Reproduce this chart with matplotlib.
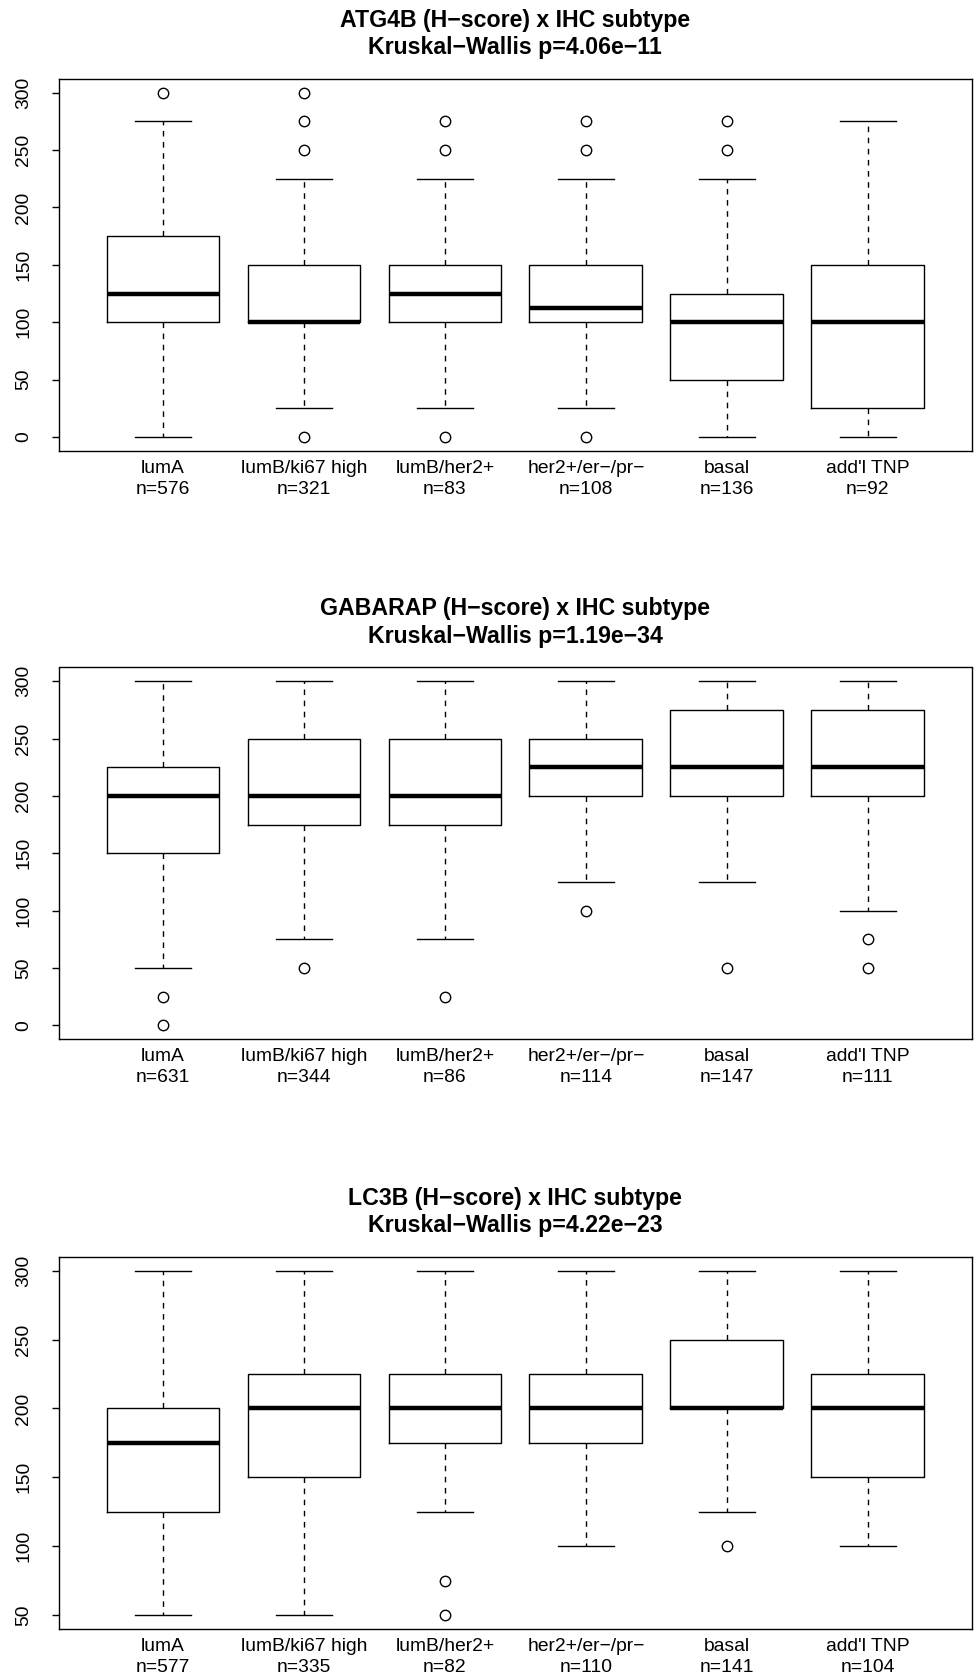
import matplotlib
matplotlib.use("Agg")
import matplotlib.pyplot as plt

plt.rcParams['font.family'] = ['Liberation Sans', 'DejaVu Sans']

subtypes = ["lumA", "lumB/ki67 high", "lumB/her2+", "her2+/er\u2212/pr\u2212", "basal", "add'l TNP"]

# ATG4B
atg4b_n = [576, 321, 83, 108, 136, 92]
atg4b_lo = [0, 25, 25, 25, 0, 0]
atg4b_q1 = [100, 100, 100, 100, 50, 25]
atg4b_med = [125, 100, 125, 112.5, 100, 100]
atg4b_q3 = [175, 150, 150, 150, 125, 150]
atg4b_hi = [275, 225, 225, 225, 225, 275]
atg4b_out = [[300], [0, 250, 275, 300], [0, 250, 275], [0, 250, 275], [250, 275], []]

# GABARAP
gab_n = [631, 344, 86, 114, 147, 111]
gab_lo = [50, 75, 75, 125, 125, 100]
gab_q1 = [150, 175, 175, 200, 200, 200]
gab_med = [200, 200, 200, 225, 225, 225]
gab_q3 = [225, 250, 250, 250, 275, 275]
gab_hi = [300, 300, 300, 300, 300, 300]
gab_out = [[0, 25], [50], [25], [100], [50], [50, 75]]

# LC3B
lc3b_n = [577, 335, 82, 110, 141, 104]
lc3b_lo = [50, 50, 125, 100, 125, 100]
lc3b_q1 = [125, 150, 175, 175, 200, 150]
lc3b_med = [175, 200, 200, 200, 200, 200]
lc3b_q3 = [200, 225, 225, 225, 250, 225]
lc3b_hi = [300, 300, 300, 300, 300, 300]
lc3b_out = [[], [], [50, 75], [], [100], []]

panels = [
    ("ATG4B", "4.06e\u221211", atg4b_n, atg4b_lo, atg4b_q1, atg4b_med, atg4b_q3, atg4b_hi, atg4b_out),
    ("GABARAP", "1.19e\u221234", gab_n, gab_lo, gab_q1, gab_med, gab_q3, gab_hi, gab_out),
    ("LC3B", "4.22e\u221223", lc3b_n, lc3b_lo, lc3b_q1, lc3b_med, lc3b_q3, lc3b_hi, lc3b_out),
]

W, H = 974, 1675
fig = plt.figure(figsize=(W / 100, H / 100), dpi=100)

axes_top_px = [79, 667.5, 1257]
axes_h_px = 371.7
left_px, right_px = 58.7, 972

base = 13.9
lw = 1.0

for (gene, pval, n, lo, q1, med, q3, hi, out), top in zip(panels, axes_top_px):
    ax = fig.add_axes([left_px / W, 1 - (top + axes_h_px) / H,
                       (right_px - left_px) / W, axes_h_px / H])
    stats = []
    for i in range(len(subtypes)):
        stats.append(dict(whislo=lo[i], q1=q1[i], med=med[i], q3=q3[i],
                          whishi=hi[i], fliers=out[i]))
    pos = list(range(1, len(subtypes) + 1))
    ax.bxp(stats, positions=pos, widths=0.8, capwidths=0.4, patch_artist=False,
           boxprops=dict(color='black', linewidth=lw),
           medianprops=dict(color='black', linewidth=3.2, solid_capstyle='butt'),
           whiskerprops=dict(color='black', linewidth=lw, linestyle=(0, (4, 4))),
           capprops=dict(color='black', linewidth=lw),
           flierprops=dict(marker='o', markerfacecolor='none', markeredgecolor='black',
                           markersize=7.5, markeredgewidth=lw))

    allv = lo + hi + [v for o in out for v in o]
    vmin, vmax = min(allv), max(allv)
    pad = 0.04 * (vmax - vmin)
    ax.set_ylim(vmin - pad, vmax + pad)
    ax.set_xlim(0.26, 6.74)

    ax.set_yticks(list(range(int(vmin), int(vmax) + 1, 50)))
    ax.tick_params(axis='y', length=7.5 * 0.72, width=lw, labelsize=base, pad=13.5,
                   labelrotation=90)
    for t in ax.get_yticklabels():
        t.set_va('center')
    ax.set_xticks(pos)
    ax.set_xticklabels([f"{s}\nn={k}" for s, k in zip(subtypes, n)],
                       fontsize=base, linespacing=1.3)
    ax.tick_params(axis='x', length=0, pad=6.5)
    for s in ax.spines.values():
        s.set_linewidth(lw)

    ax.set_title(f"{gene} (H\u2212score) x IHC subtype\nKruskal\u2212Wallis p={pval}",
                 fontsize=base * 1.2, fontweight='bold', linespacing=1.25, pad=18)

fig.savefig("out.png", dpi=100)
